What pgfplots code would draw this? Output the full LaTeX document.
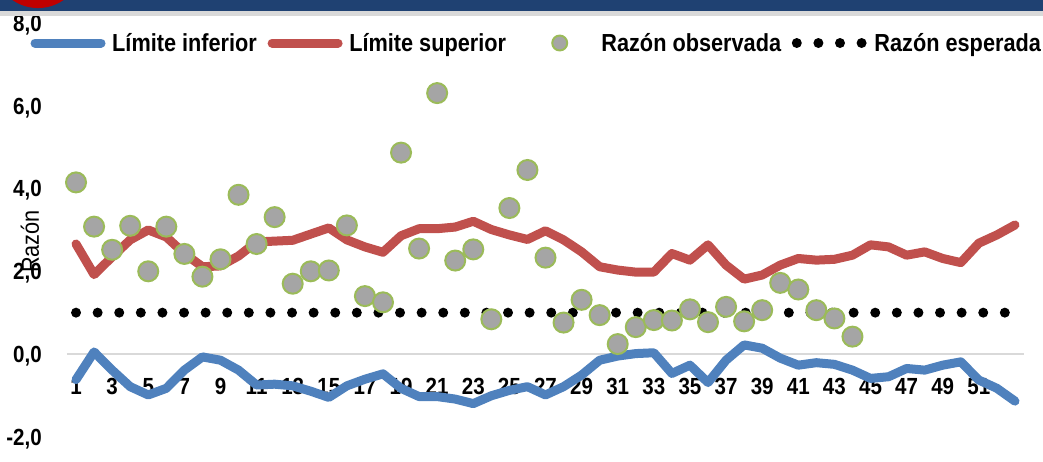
\documentclass[border=0pt]{standalone}
\usepackage{fontspec}
\setmainfont{Liberation Sans}[FakeStretch=0.88]
\usepackage{pgfplots}
\usepackage{pgfplotstable}
\pgfplotsset{compat=1.18}

\definecolor{lblue}{HTML}{4F81BD}
\definecolor{lred}{HTML}{C0504D}
\definecolor{mgray}{HTML}{A5A5A5}
\definecolor{mgreen}{HTML}{9BBB59}
\definecolor{band}{HTML}{1F4172}
\definecolor{dot}{HTML}{C00000}

\pgfplotsset{
  linelegend/.style={legend image code/.code={\draw[##1] (0pt,0pt) -- (49.5pt,0pt);}},
  marklegend/.style={legend image code/.code={\path[draw=none, fill=none] (0pt,0pt) -- (58.5pt,0pt);
      \filldraw[fill=mgray, draw=mgreen, line width=1.5pt] (32.25pt,0pt) circle (5.6pt);}},
}

% semana, limite inferior, limite superior
\pgfplotstableread{
w lo hi
1 -0.62 2.66
2 0.05 1.92
3 -0.39 2.35
4 -0.79 2.76
5 -0.99 3.00
6 -0.83 2.83
7 -0.39 2.43
8 -0.07 2.11
9 -0.15 2.13
10 -0.39 2.37
11 -0.75 2.71
12 -0.73 2.73
13 -0.77 2.75
14 -0.90 2.90
15 -1.05 3.05
16 -0.77 2.76
17 -0.61 2.59
18 -0.48 2.46
19 -0.83 2.86
20 -1.03 3.03
21 -1.03 3.03
22 -1.09 3.07
23 -1.20 3.21
24 -1.01 3.01
25 -0.88 2.88
26 -0.79 2.77
27 -0.99 2.98
28 -0.79 2.76
29 -0.51 2.47
30 -0.15 2.11
31 -0.05 2.03
32 0.01 1.98
33 0.03 1.98
34 -0.47 2.43
35 -0.27 2.27
36 -0.69 2.64
37 -0.15 2.15
38 0.22 1.81
39 0.14 1.91
40 -0.10 2.15
41 -0.27 2.31
42 -0.21 2.27
43 -0.25 2.29
44 -0.39 2.39
45 -0.59 2.64
46 -0.55 2.59
47 -0.35 2.39
48 -0.39 2.47
49 -0.27 2.31
50 -0.19 2.21
51 -0.63 2.68
52 -0.83 2.88
53 -1.14 3.12
}\limites

% razon observada
\pgfplotstableread{
w obs
1 4.15
2 3.08
3 2.52
4 3.10
5 2.00
6 3.08
7 2.42
8 1.87
9 2.29
10 3.85
11 2.66
12 3.31
13 1.70
14 2.00
15 2.02
16 3.11
17 1.40
18 1.25
19 4.87
20 2.55
21 6.31
22 2.26
23 2.53
24 0.84
25 3.53
26 4.45
27 2.33
28 0.76
29 1.31
30 0.94
31 0.24
32 0.65
33 0.82
34 0.81
35 1.08
36 0.77
37 1.14
38 0.79
39 1.06
40 1.72
41 1.56
42 1.06
43 0.86
44 0.42
}\observada

\begin{document}
\begin{tikzpicture}
\path[use as bounding box] (0,0) rectangle (782.25pt,345.75pt);
\begin{axis}[
  at={(50.25pt,18.225pt)}, anchor=south west,
  width=717.75pt, height=310.125pt, scale only axis,
  xmin=0.5, xmax=53.5, ymin=-2, ymax=8,
  clip=false,
  axis line style={draw=none}, major tick length=0pt,
  xtick={1,3,...,51},
  ytick={-2,0,...,8},
  yticklabels={{-2,0},{0,0},{2,0},{4,0},{6,0},{8,0}},
  /pgf/number format/assume math mode=true,
  ticklabel style={font=\fontsize{17.5}{20}\selectfont\bfseries, inner sep=0pt},
  xticklabel style={anchor=center, yshift=37.65pt},
  yticklabel style={anchor=east, xshift=-18.75pt, yshift=-1.5pt},
  extra y ticks={0}, extra y tick labels={},
  extra y tick style={ymajorgrids=true, major grid style={draw=black!15, line width=1.2pt}},
  ylabel={Razón},
  every axis y label/.style={at={(axis description cs:-0.0293,0.472)}, rotate=90,
    anchor=base, font=\fontsize{18.5}{22}\selectfont},
  legend columns=4,
  legend cell align=left,
  legend style={draw=none, fill=none, inner sep=0pt, outer sep=0pt,
    at={(axis description cs:-0.0381,0.9521)}, anchor=west,
    font=\fontsize{18.5}{22}\selectfont\bfseries,
    /tikz/every odd column/.append style={column sep=3pt},
    /tikz/every even column/.append style={column sep=6pt}},
]
\addplot[forget plot, lblue, line width=6.75pt, line join=round, line cap=round]
  table[x=w, y=lo] {\limites};
\addplot[forget plot, lred, line width=6.75pt, line join=round, line cap=round]
  table[x=w, y=hi] {\limites};
\addplot[forget plot, black, line width=7.5pt, line cap=round, dash pattern=on 0pt off 16.2pt]
  coordinates {(1,1) (53,1)};
\addplot[forget plot, only marks, mark=*, mark size=7.5pt,
  mark options={fill=mgray, draw=mgreen, line width=1.5pt}]
  table[x=w, y=obs] {\observada};

\addlegendimage{linelegend, lblue, line width=6.75pt, line cap=round}
\addlegendentry{Límite inferior}
\addlegendimage{linelegend, lred, line width=6.75pt, line cap=round}
\addlegendentry{Límite superior}
\addlegendimage{marklegend}
\addlegendentry{Razón observada}
\addlegendimage{linelegend, black, line width=7.5pt, line cap=round, dash pattern=on 0pt off 16.2pt}
\addlegendentry{Razón esperada}
\end{axis}
% franja de cabecera
\begin{scope}
\clip (0,0) rectangle (782.25pt,345.75pt);
\fill[black!15] (0,333.75pt) rectangle (782.25pt,337.5pt);
\fill[band] (0,337.5pt) rectangle (782.25pt,345.75pt);
\fill[dot] (28.5pt,373.1pt) circle (33.4pt);
\end{scope}
\end{tikzpicture}
\end{document}
